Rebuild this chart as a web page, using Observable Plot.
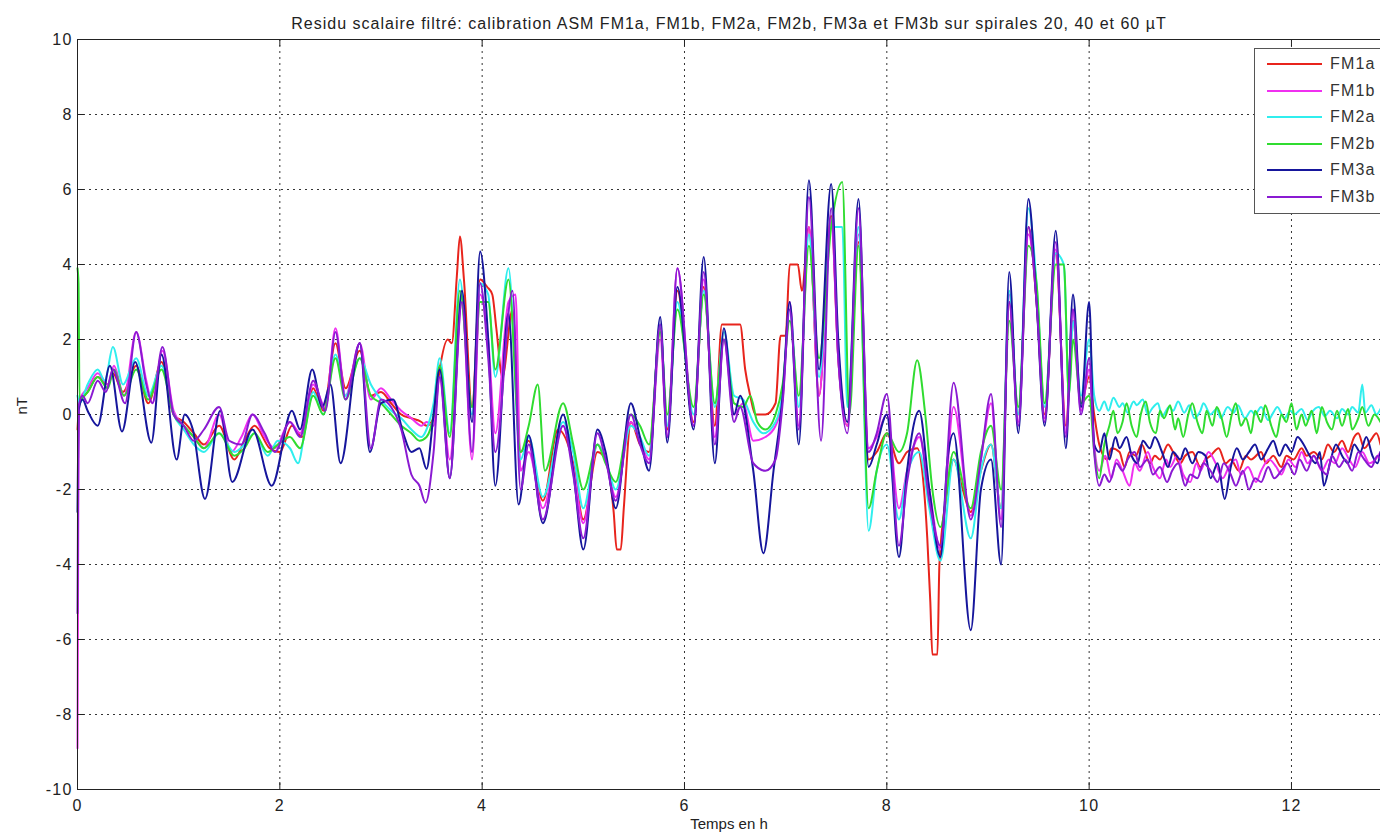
<!DOCTYPE html>
<html>
<head>
<meta charset="utf-8">
<script src="https://cdn.jsdelivr.net/npm/d3@7"></script>
<script src="https://cdn.jsdelivr.net/npm/@observablehq/plot@0.6"></script>
<style>
  html, body { margin: 0; padding: 0; background: #fff; overflow: hidden; }
  #wrap { position: relative; width: 1380px; height: 840px; overflow: hidden; }
  #legend { position: absolute; left: 1254px; top: 48px; width: 160px; height: 166px;
            border: 1px solid #555; background: #fff; box-sizing: border-box;
            font-family: "Liberation Sans", Arial, sans-serif; font-size: 16px; letter-spacing: 1.2px; color: #333; }
  #legend .row { position: absolute; left: 0; height: 20px; display: flex; align-items: center; }
  #legend .sw { width: 55px; height: 2px; margin-left: 12px; margin-right: 8px; }
</style>
</head>
<body>
<div id="wrap"><div id="chart"></div><div id="legend"></div></div>
<script>
const seriesNames = ["FM1a", "FM1b", "FM2a", "FM2b", "FM3a", "FM3b"];
const seriesColors = ["#e8241c", "#f030f0", "#30eeee", "#30dc30", "#16169c", "#8a1ad2"];
const xTicks = [0, 2, 4, 6, 8, 10, 12];
const yTicks = [-10, -8, -6, -4, -2, 0, 2, 4, 6, 8, 10];
const titleText = "Residu scalaire filtré: calibration ASM FM1a, FM1b, FM2a, FM2b, FM3a et FM3b sur spirales 20, 40 et 60 µT";
const xLabel = "Temps en h";
const yLabel = "nT";

// [time in h, residual in nT]
const FM1a = [[0,-0.4],[0.02,0.3],[0.1,0.6],[0.2,1.0],[0.3,0.8],[0.35,1.1],[0.45,0.6],[0.58,1.3],[0.7,0.3],[0.83,1.4],[0.95,0.0],[1.05,-0.2],[1.15,-0.5],[1.25,-0.8],[1.4,-0.3],[1.55,-1.2],[1.65,-0.7],[1.75,-0.3],[1.9,-0.9],[2.0,-1.0],[2.12,-0.3],[2.22,-0.6],[2.33,0.7],[2.43,0.1],[2.55,1.9],[2.65,0.7],[2.79,1.7],[2.9,0.5],[3.0,0.6],[3.1,0.3],[3.2,0.0],[3.3,-0.1],[3.4,-0.2],[3.45,-0.3],[3.52,-0.1],[3.58,1.2],[3.66,2.0],[3.7,1.9],[3.75,3.7],[3.78,4.75],[3.82,3.6],[3.9,0.2],[3.98,3.6],[4.05,3.4],[4.1,3.2],[4.14,2.3],[4.2,1.0],[4.3,2.8],[4.38,-1.0],[4.46,-0.7],[4.6,-2.3],[4.75,-0.4],[4.9,-1.3],[5.0,-2.8],[5.14,-1.0],[5.22,-1.2],[5.3,-2.6],[5.33,-3.6],[5.37,-3.6],[5.4,-2.5],[5.47,-0.2],[5.56,-0.8],[5.65,-1.0],[5.76,2.3],[5.83,-0.4],[5.93,3.3],[6.09,-0.2],[6.19,3.4],[6.3,-0.3],[6.37,2.4],[6.55,2.4],[6.6,1.2],[6.65,0.5],[6.7,0.0],[6.8,0.0],[6.9,0.3],[6.95,2.1],[7.0,2.1],[7.04,4.0],[7.12,4.0],[7.16,3.3],[7.23,5.0],[7.33,0.5],[7.45,5.3],[7.52,1.5],[7.61,-0.3],[7.72,4.6],[7.82,-1.2],[7.9,-1.0],[8.0,-0.5],[8.12,-1.3],[8.2,-1.0],[8.3,-0.9],[8.35,-1.5],[8.4,-3.3],[8.43,-5.0],[8.45,-6.4],[8.5,-6.4],[8.52,-4.0],[8.6,-2.0],[8.66,-1.2],[8.75,-2.0],[8.83,-2.6],[8.93,-1.5],[9.03,-0.8],[9.13,-2.5],[9.21,3.0],[9.3,0.0],[9.4,5.0],[9.48,3.0],[9.56,0.0],[9.67,4.3],[9.77,-0.3],[9.84,2.5],[9.92,0.3],[10.0,1.0],[10.05,0.0],[10.1,-0.8],[10.18,-1.2],[10.22,-0.9],[10.3,-1.0],[10.35,-1.4],[10.4,-1.0],[10.46,-1.1],[10.52,-0.8],[10.6,-1.3],[10.65,-1.1],[10.7,-1.2],[10.78,-0.8],[10.83,-1.0],[10.9,-1.3],[10.95,-1.1],[11.02,-1.0],[11.1,-1.4],[11.15,-1.2],[11.2,-1.1],[11.28,-0.9],[11.35,-1.3],[11.4,-1.2],[11.48,-1.5],[11.55,-1.1],[11.6,-1.2],[11.7,-1.0],[11.75,-1.3],[11.82,-1.1],[11.9,-1.4],[11.95,-1.1],[12.02,-1.2],[12.1,-0.9],[12.15,-1.1],[12.22,-1.0],[12.3,-1.2],[12.36,-0.8],[12.42,-1.0],[12.5,-0.7],[12.56,-1.0],[12.62,-0.6],[12.66,-0.5],[12.72,-0.9],[12.78,-0.7],[12.84,-0.5],[12.88,-0.8]];

const FM1b = [[0,-8.9],[0.01,-1.0],[0.02,0.4],[0.1,0.7],[0.2,1.1],[0.3,0.8],[0.36,1.3],[0.46,0.5],[0.58,2.2],[0.68,0.9],[0.74,0.3],[0.84,1.7],[0.95,0.1],[1.05,-0.3],[1.15,-0.6],[1.25,-0.9],[1.4,0.0],[1.52,-1.0],[1.62,-0.6],[1.73,0.0],[1.85,-0.6],[1.95,-0.9],[2.1,-0.2],[2.2,-0.5],[2.33,0.8],[2.45,0.2],[2.55,2.3],[2.65,0.5],[2.79,1.9],[2.9,0.4],[3.0,0.7],[3.1,0.4],[3.2,0.1],[3.3,-0.1],[3.4,-0.3],[3.45,-0.2],[3.52,-0.3],[3.58,1.0],[3.68,-1.2],[3.8,3.0],[3.9,-1.2],[3.98,3.2],[4.06,2.0],[4.13,-0.5],[4.26,3.0],[4.33,3.2],[4.38,-1.5],[4.46,-1.0],[4.6,-2.5],[4.8,-0.3],[4.9,-1.4],[5.0,-2.9],[5.14,-0.8],[5.22,-1.2],[5.32,-2.2],[5.47,-0.2],[5.56,-0.7],[5.65,-1.2],[5.76,2.0],[5.83,-0.6],[5.93,3.9],[6.09,-0.3],[6.19,3.6],[6.3,-0.6],[6.39,2.0],[6.49,0.0],[6.58,0.3],[6.68,-0.7],[6.8,-0.6],[6.9,-0.3],[6.97,0.4],[7.04,3.0],[7.13,-0.3],[7.23,5.0],[7.33,0.5],[7.45,5.2],[7.52,1.5],[7.61,-0.3],[7.72,4.8],[7.82,-0.9],[7.9,-0.6],[8.0,0.0],[8.12,-2.5],[8.2,-1.5],[8.32,-0.6],[8.42,-2.0],[8.53,-3.6],[8.66,0.2],[8.83,-2.7],[8.93,-1.2],[9.03,0.3],[9.13,-2.8],[9.21,3.2],[9.3,-0.2],[9.4,4.8],[9.48,3.2],[9.56,-0.1],[9.67,4.4],[9.77,-0.5],[9.84,2.8],[9.92,0.1],[10.0,1.2],[10.05,-0.8],[10.1,-1.5],[10.16,-1.1],[10.22,-1.7],[10.27,-1.2],[10.33,-1.5],[10.4,-1.9],[10.45,-1.3],[10.5,-1.5],[10.58,-1.0],[10.63,-1.4],[10.7,-1.7],[10.76,-1.2],[10.8,-1.4],[10.87,-1.1],[10.93,-1.6],[11.0,-1.8],[11.06,-1.3],[11.1,-1.5],[11.18,-1.0],[11.25,-1.3],[11.32,-1.7],[11.38,-1.4],[11.45,-1.2],[11.5,-1.6],[11.57,-1.4],[11.65,-1.8],[11.7,-1.5],[11.78,-1.2],[11.85,-1.4],[11.9,-1.6],[11.97,-1.2],[12.04,-1.4],[12.1,-1.0],[12.16,-1.3],[12.22,-1.1],[12.3,-1.5],[12.37,-1.2],[12.43,-1.3],[12.5,-0.9],[12.57,-1.2],[12.63,-1.4],[12.7,-1.0],[12.77,-1.3],[12.83,-1.2],[12.88,-1.0]];

const FM2a = [[0,0.5],[0.02,0.3],[0.1,0.8],[0.2,1.2],[0.27,0.9],[0.35,1.8],[0.45,0.8],[0.58,1.5],[0.7,0.5],[0.83,1.3],[0.95,0.0],[1.05,-0.4],[1.15,-0.8],[1.25,-1.0],[1.4,-0.5],[1.55,-1.0],[1.65,-0.8],[1.75,-0.5],[1.88,-1.1],[1.98,-0.7],[2.1,-0.9],[2.18,-1.3],[2.25,-0.4],[2.33,0.6],[2.43,0.0],[2.55,1.6],[2.65,0.5],[2.79,1.5],[2.9,0.8],[3.0,0.4],[3.1,0.1],[3.2,-0.1],[3.3,-0.4],[3.4,-0.6],[3.45,-0.4],[3.52,0.3],[3.58,1.5],[3.68,-0.5],[3.78,3.6],[3.9,0.0],[3.98,3.5],[4.06,3.2],[4.13,1.0],[4.26,3.9],[4.38,-1.2],[4.46,-0.6],[4.6,-2.2],[4.8,-0.2],[4.9,-1.0],[5.0,-2.5],[5.14,-0.8],[5.22,-1.2],[5.32,-2.0],[5.47,-0.3],[5.56,-0.6],[5.65,-1.1],[5.76,2.4],[5.83,-0.3],[5.93,3.0],[6.09,0.0],[6.19,3.3],[6.3,0.2],[6.39,2.2],[6.49,0.5],[6.58,0.4],[6.68,-0.2],[6.78,-0.5],[6.9,-0.2],[6.97,0.6],[7.04,2.8],[7.13,0.2],[7.23,4.8],[7.33,1.0],[7.45,5.0],[7.56,5.0],[7.61,0.2],[7.72,5.0],[7.82,-3.1],[7.9,-1.5],[8.0,-0.8],[8.12,-2.8],[8.2,-1.6],[8.32,-1.0],[8.42,-2.5],[8.53,-3.9],[8.66,-1.2],[8.83,-3.3],[8.93,-1.5],[9.03,-0.8],[9.13,-2.5],[9.21,3.3],[9.3,0.0],[9.4,5.5],[9.48,3.5],[9.56,0.2],[9.67,4.3],[9.75,4.0],[9.8,0.5],[9.84,2.5],[9.92,0.5],[10.0,2.0],[10.05,0.5],[10.1,0.1],[10.15,0.35],[10.19,0.1],[10.24,0.45],[10.3,0.2],[10.33,0.3],[10.38,0.05],[10.44,0.35],[10.47,0.25],[10.53,0.4],[10.58,0.0],[10.62,0.15],[10.68,0.3],[10.72,-0.05],[10.79,0.2],[10.83,0.1],[10.88,0.35],[10.94,0.05],[10.99,0.25],[11.04,-0.1],[11.1,0.1],[11.13,0.3],[11.2,0.0],[11.26,0.15],[11.3,-0.1],[11.37,0.2],[11.43,0.05],[11.47,0.25],[11.54,-0.1],[11.6,0.1],[11.64,0.0],[11.7,0.2],[11.77,-0.15],[11.82,0.05],[11.86,0.2],[11.93,-0.1],[11.99,0.1],[12.03,0.0],[12.1,0.15],[12.16,-0.15],[12.2,0.05],[12.27,0.2],[12.33,-0.05],[12.38,0.1],[12.45,-0.1],[12.5,0.15],[12.56,0.0],[12.6,0.2],[12.66,0.05],[12.7,0.8],[12.73,0.05],[12.79,0.25],[12.84,0.0],[12.88,0.15]];

const FM2b = [[0,3.9],[0.01,3.5],[0.02,0.4],[0.1,0.6],[0.2,1.0],[0.3,0.7],[0.36,1.2],[0.46,0.5],[0.58,1.2],[0.7,0.4],[0.83,1.2],[0.95,0.0],[1.05,-0.3],[1.15,-0.6],[1.25,-0.9],[1.4,-0.5],[1.55,-1.1],[1.65,-0.9],[1.75,-0.5],[1.88,-1.0],[1.98,-0.8],[2.1,-0.6],[2.2,-0.9],[2.33,0.5],[2.43,0.0],[2.55,1.5],[2.65,0.4],[2.79,1.5],[2.9,0.5],[3.0,0.3],[3.1,0.0],[3.2,-0.3],[3.3,-0.5],[3.38,-0.7],[3.45,-0.6],[3.52,0.0],[3.58,1.3],[3.68,-0.6],[3.78,3.3],[3.9,0.2],[3.98,3.0],[4.06,3.0],[4.13,1.2],[4.26,3.6],[4.38,-1.0],[4.46,-0.3],[4.55,0.8],[4.62,-1.5],[4.8,0.3],[4.9,-0.8],[5.0,-2.0],[5.14,-0.8],[5.22,-1.3],[5.32,-1.8],[5.47,0.0],[5.56,-0.3],[5.65,-0.8],[5.76,2.2],[5.83,0.0],[5.93,2.8],[6.09,0.2],[6.19,3.2],[6.3,0.3],[6.39,2.0],[6.49,0.3],[6.58,0.2],[6.65,0.5],[6.72,-0.2],[6.8,-0.4],[6.9,0.0],[6.97,0.8],[7.04,2.5],[7.13,0.5],[7.23,4.5],[7.33,1.5],[7.45,5.0],[7.56,6.2],[7.63,0.0],[7.72,4.5],[7.82,-2.5],[7.9,-1.5],[8.0,-0.5],[8.12,-1.0],[8.2,-0.5],[8.3,1.45],[8.38,0.0],[8.45,-2.0],[8.53,-3.0],[8.66,-1.0],[8.83,-2.5],[8.93,-1.0],[9.03,-0.3],[9.13,-2.0],[9.21,2.5],[9.3,0.2],[9.4,4.5],[9.48,3.5],[9.56,0.3],[9.67,4.0],[9.75,4.0],[9.8,0.5],[9.84,2.0],[9.92,0.3],[10.0,0.5],[10.05,-1.0],[10.1,-1.7],[10.15,-0.8],[10.2,-0.3],[10.24,0.1],[10.28,-0.5],[10.33,-0.2],[10.37,0.3],[10.42,-0.3],[10.47,-0.6],[10.51,0.0],[10.56,0.35],[10.6,-0.2],[10.66,-0.5],[10.7,0.1],[10.74,-0.1],[10.8,0.25],[10.85,-0.4],[10.88,-0.1],[10.93,-0.6],[10.98,0.0],[11.02,0.3],[11.07,-0.2],[11.12,-0.5],[11.16,0.1],[11.22,-0.3],[11.26,0.2],[11.31,-0.1],[11.36,-0.6],[11.41,0.0],[11.45,0.3],[11.5,-0.3],[11.55,-0.1],[11.6,-0.5],[11.64,0.1],[11.7,-0.2],[11.74,0.25],[11.8,-0.3],[11.85,-0.6],[11.9,0.0],[11.95,-0.2],[12.0,0.3],[12.05,-0.4],[12.1,0.0],[12.14,-0.3],[12.2,0.1],[12.25,-0.5],[12.3,0.2],[12.35,-0.2],[12.4,-0.4],[12.45,0.1],[12.5,-0.3],[12.56,0.15],[12.6,-0.4],[12.66,-0.1],[12.7,0.2],[12.76,-0.3],[12.82,0.0],[12.88,-0.2]];

const FM3a = [[0,-2.6],[0.01,0.1],[0.05,0.4],[0.1,0.1],[0.2,-0.3],[0.32,1.3],[0.44,-0.45],[0.57,1.4],[0.73,-0.75],[0.83,1.6],[0.98,-1.2],[1.06,0.0],[1.14,-0.4],[1.26,-2.25],[1.41,0.1],[1.53,-1.8],[1.73,-0.4],[1.92,-1.9],[2.12,0.1],[2.2,-0.4],[2.32,1.2],[2.42,0.2],[2.5,0.8],[2.6,-1.3],[2.79,1.9],[2.89,-1.0],[3.0,0.3],[3.12,0.4],[3.22,-0.5],[3.3,-1.0],[3.38,-0.9],[3.45,-1.45],[3.52,0.0],[3.58,1.2],[3.68,-1.7],[3.8,3.3],[3.9,-0.2],[3.98,4.35],[4.06,2.0],[4.13,-1.9],[4.26,2.7],[4.36,-2.4],[4.46,-0.55],[4.6,-2.9],[4.8,0.0],[4.9,-1.5],[5.0,-3.6],[5.14,-0.4],[5.22,-1.0],[5.32,-2.5],[5.47,0.3],[5.56,-0.6],[5.65,-1.5],[5.76,2.6],[5.83,-0.75],[5.93,3.4],[6.09,-0.4],[6.19,4.2],[6.3,-1.3],[6.39,2.3],[6.49,0.0],[6.55,0.5],[6.68,-1.5],[6.78,-3.7],[6.88,-1.5],[6.97,0.5],[7.04,3.0],[7.13,-0.8],[7.23,6.25],[7.33,1.2],[7.45,6.15],[7.52,2.0],[7.61,-0.2],[7.72,5.75],[7.82,-1.4],[7.9,-0.8],[8.0,0.0],[8.12,-3.8],[8.2,-1.5],[8.32,0.1],[8.42,-2.0],[8.53,-3.8],[8.6,-1.2],[8.66,-0.5],[8.83,-5.75],[8.93,-2.0],[9.03,-1.2],[9.13,-4.0],[9.21,3.8],[9.3,-0.5],[9.4,5.75],[9.48,3.0],[9.56,-0.3],[9.67,4.9],[9.77,-0.9],[9.84,3.2],[9.92,0.2],[10.0,3.0],[10.05,-0.8],[10.1,-1.0],[10.15,-0.5],[10.2,-1.2],[10.26,-0.6],[10.3,-0.9],[10.37,-0.6],[10.42,-1.1],[10.48,-1.3],[10.53,-0.7],[10.6,-0.9],[10.65,-0.6],[10.72,-1.0],[10.78,-1.4],[10.83,-1.0],[10.9,-1.2],[10.95,-0.9],[11.02,-1.3],[11.08,-1.0],[11.15,-1.1],[11.2,-1.7],[11.27,-1.3],[11.34,-2.25],[11.4,-1.4],[11.46,-0.9],[11.52,-1.2],[11.58,-1.0],[11.64,-0.8],[11.7,-1.2],[11.77,-0.9],[11.82,-0.7],[11.88,-1.1],[11.94,-0.8],[12.0,-1.0],[12.06,-0.6],[12.12,-0.8],[12.18,-1.1],[12.24,-1.3],[12.28,-1.0],[12.32,-1.9],[12.38,-1.3],[12.44,-0.8],[12.5,-1.1],[12.56,-1.3],[12.62,-0.8],[12.68,-1.0],[12.74,-0.6],[12.8,-1.1],[12.85,-1.3],[12.88,-1.0]];

const FM3b = [[0,-5.3],[0.01,0.2],[0.05,0.5],[0.1,0.3],[0.2,0.9],[0.28,0.6],[0.35,1.2],[0.47,0.3],[0.58,2.2],[0.68,0.8],[0.74,0.3],[0.84,1.8],[0.95,0.0],[1.05,-0.3],[1.15,-0.7],[1.25,-0.4],[1.4,0.2],[1.5,-0.7],[1.62,-0.8],[1.73,0.0],[1.85,-0.5],[1.95,-1.0],[2.1,-0.2],[2.2,-0.6],[2.33,0.9],[2.45,0.1],[2.55,2.2],[2.65,0.4],[2.79,1.9],[2.9,-0.9],[3.0,0.4],[3.1,0.2],[3.2,-0.4],[3.3,-1.6],[3.38,-1.9],[3.44,-2.35],[3.52,-1.0],[3.58,1.0],[3.68,-1.7],[3.8,3.0],[3.9,-1.0],[3.98,3.5],[4.06,1.5],[4.13,-1.0],[4.3,3.3],[4.38,-2.0],[4.46,-0.8],[4.6,-2.8],[4.8,-0.3],[4.9,-1.6],[5.0,-3.3],[5.14,-0.5],[5.22,-1.2],[5.32,-2.3],[5.47,0.0],[5.56,-0.8],[5.65,-1.3],[5.76,2.4],[5.83,-0.6],[5.93,3.9],[6.09,-0.3],[6.19,3.8],[6.3,-0.8],[6.39,2.0],[6.49,-0.2],[6.55,0.2],[6.68,-1.3],[6.8,-1.5],[6.9,-1.2],[6.97,0.3],[7.04,2.8],[7.13,-0.4],[7.23,5.8],[7.35,-0.7],[7.45,5.5],[7.52,1.5],[7.61,-0.5],[7.72,5.5],[7.82,-1.0],[7.9,-0.5],[8.0,0.55],[8.12,-3.5],[8.2,-1.8],[8.32,-0.5],[8.42,-2.3],[8.53,-3.5],[8.66,0.85],[8.83,-2.8],[8.93,-1.2],[9.03,0.55],[9.13,-3.0],[9.21,3.0],[9.3,-0.3],[9.4,5.0],[9.48,3.0],[9.56,-0.2],[9.67,4.6],[9.77,-0.6],[9.84,2.8],[9.92,0.0],[10.0,1.5],[10.05,-1.0],[10.1,-1.9],[10.15,-1.6],[10.2,-1.8],[10.27,-1.3],[10.33,-1.5],[10.38,-1.2],[10.45,-1.0],[10.5,-1.4],[10.58,-1.2],[10.63,-1.6],[10.7,-1.4],[10.77,-1.8],[10.82,-1.5],[10.88,-1.3],[10.95,-1.9],[11.0,-1.6],[11.07,-1.7],[11.13,-1.3],[11.2,-1.5],[11.27,-1.8],[11.33,-1.3],[11.4,-1.6],[11.45,-1.9],[11.52,-1.5],[11.58,-2.0],[11.64,-1.7],[11.7,-1.8],[11.77,-1.4],[11.83,-1.7],[11.9,-1.5],[11.96,-1.3],[12.03,-1.6],[12.08,-1.2],[12.15,-1.5],[12.22,-1.1],[12.28,-1.4],[12.35,-1.6],[12.4,-1.1],[12.47,-1.4],[12.53,-1.2],[12.6,-1.5],[12.66,-1.0],[12.72,-1.2],[12.79,-1.4],[12.85,-1.1],[12.88,-1.2]];

const allSeries = [FM1a, FM1b, FM2a, FM2b, FM3a, FM3b];
const font = "'Liberation Sans', Arial, sans-serif";

const lineMarks = allSeries.map((s, i) =>
  Plot.line(s.map(([t, v]) => ({t, v})), {
    x: "t", y: "v", stroke: seriesColors[i], strokeWidth: 2, curve: "monotone-x"
  })
);

const frameW = 1380 - 77, frameH = 840 - 39 - 51;

const chart = Plot.plot({
  width: 1380,
  height: 840,
  marginLeft: 77,
  marginRight: 0,
  marginTop: 39,
  marginBottom: 51,
  style: { fontFamily: font, fontSize: "16px", letterSpacing: "1.2px", color: "#222", background: "#fff" },
  x: { domain: [0, 12.88], ticks: xTicks, tickSize: 0, tickPadding: 10, tickFormat: d => String(d), label: null },
  y: { domain: [-10, 10], ticks: yTicks, tickSize: 0, tickPadding: 5, tickFormat: d => String(d), label: null },
  marks: [
    Plot.ruleX(xTicks, { x: d => d, stroke: "#111", strokeDasharray: "2,4", strokeOpacity: 0.85 }),
    Plot.ruleY(yTicks, { y: d => d, stroke: "#111", strokeDasharray: "2,4", strokeOpacity: 0.85 }),
    ...lineMarks,
    Plot.tickX(xTicks, { x: d => d, stroke: "#222", insetBottom: frameH - 7 }),
    Plot.tickX(xTicks, { x: d => d, stroke: "#222", insetTop: frameH - 7 }),
    Plot.tickY(yTicks, { y: d => d, stroke: "#222", insetRight: frameW - 7 }),
    Plot.ruleY([10, -10], { stroke: "#222" }),
    Plot.ruleX([0], { stroke: "#222" }),
    Plot.text([titleText], { text: d => d, frameAnchor: "top", dy: -22, fill: "#222", fontSize: 16 }),
    Plot.text([xLabel], { text: d => d, frameAnchor: "bottom", dy: 39, fill: "#222", fontSize: 15 }),
    Plot.text([yLabel], { text: d => d, frameAnchor: "left", dx: -55, rotate: -90, fill: "#222", fontSize: 15 })
  ]
});
document.getElementById("chart").appendChild(chart);

// per-text spacing tweaks
d3.select(chart).selectAll("text").each(function () {
  const t = this.textContent;
  if (t === xLabel || t === yLabel) this.setAttribute("letter-spacing", "0px");
  if (t === titleText) this.setAttribute("letter-spacing", "1px");
});

// legend
const legend = document.getElementById("legend");
seriesNames.forEach((name, i) => {
  const row = document.createElement("div");
  row.className = "row";
  row.style.top = (5 + i * 26.6) + "px";
  const sw = document.createElement("div");
  sw.className = "sw";
  sw.style.background = seriesColors[i];
  const label = document.createElement("span");
  label.textContent = name;
  row.appendChild(sw);
  row.appendChild(label);
  legend.appendChild(row);
});
</script>
</body>
</html>
